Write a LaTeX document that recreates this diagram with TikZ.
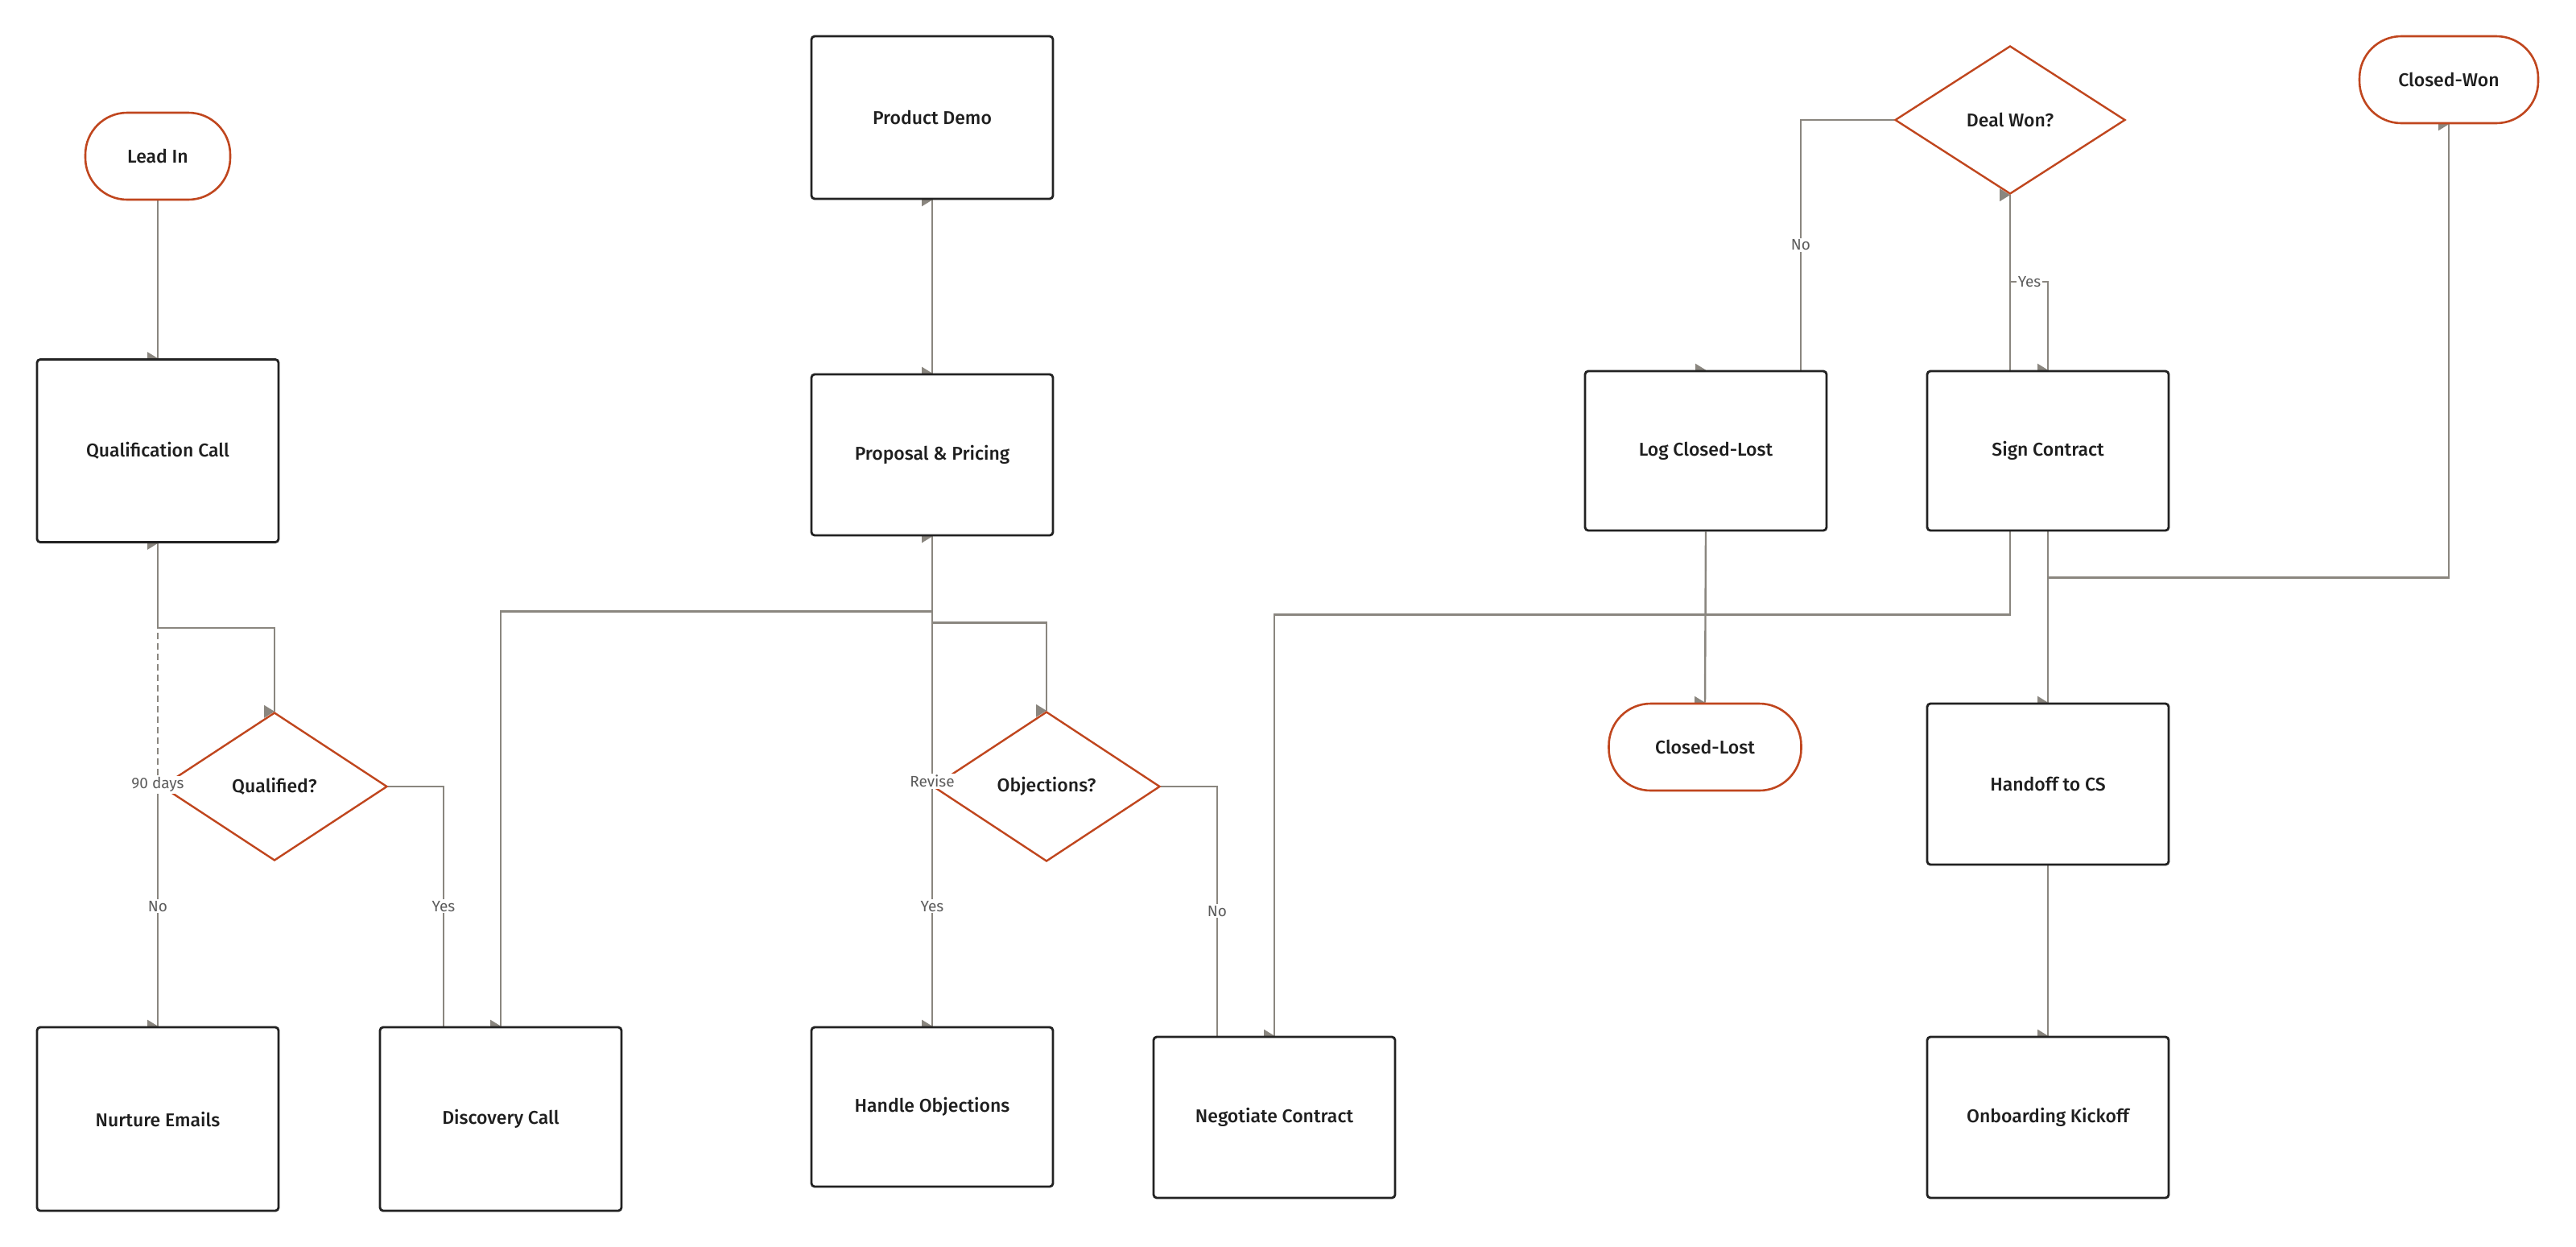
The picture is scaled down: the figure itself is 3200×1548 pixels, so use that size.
\documentclass[tikz,border=0pt]{standalone}
\usepackage{fontspec}
\setmainfont{Fira Sans}
\newfontfamily\medfont{Fira Sans Medium}
\usetikzlibrary{shapes.geometric,calc}
\pgfdeclarelayer{bg}
\pgfsetlayers{bg,main}
\definecolor{edgec}{HTML}{8A867F}
\definecolor{orng}{HTML}{C0461E}
\definecolor{boxc}{HTML}{222222}
\definecolor{lblc}{HTML}{5C5C5C}
\definecolor{txtc}{HTML}{1F1F1F}
\newcommand\arrowtipat[1]{\fill[tipc] (#1) -- ++(-13,-8) -- ++(0,16) -- cycle;}
\begin{document}
\begin{tikzpicture}[x=0.5pt,y=-0.5pt,
  proc/.style={rectangle, draw=boxc, line width=1.4pt, rounded corners=2pt, fill=white,
    minimum width=150pt, minimum height=100pt, inner sep=0pt, text=txtc,
    font=\medfont\fontsize{11.5}{13}\selectfont},
  term/.style={rectangle, draw=orng, line width=1.3pt, rounded corners=26pt, fill=white,
    minimum height=54pt, inner sep=0pt, text=txtc,
    font=\medfont\fontsize{11.5}{13}\selectfont},
  dec/.style={diamond, draw=orng, line width=1.2pt, fill=white, inner sep=0pt,
    shape aspect=1.5, text=txtc, font=\medfont\fontsize{11.5}{13}\selectfont},
  conn/.style={draw=edgec, line width=1.2pt},
  lbl/.style={fill=white, text=lblc, inner sep=1pt, font=\fontsize{9.5}{11}\selectfont},
  tipc/.style={fill=edgec}
]
\useasboundingbox (0,0) rectangle (3200,1548);

% nodes
\node[term, minimum width=90pt] (lead) at (196,194) {Lead In};
\node[proc, minimum height=113.5pt] (qc) at (196,560) {Qualification Call};
\node[dec, minimum width=140pt, minimum height=92pt] (qual) at (341,977) {Qualified?};
\node[proc, minimum height=114pt] (nurt) at (196,1390) {Nurture Emails};
\node[proc, minimum height=114pt] (disc) at (622,1390) {Discovery Call};
\node[proc, minimum height=101pt] (demo) at (1158,146) {Product Demo};
\node[proc] (prop) at (1158,565) {Proposal \& Pricing};
\node[dec, minimum width=141pt, minimum height=93pt] (obj) at (1300,977) {Objections?};
\node[proc, minimum height=99pt] (hand) at (1158,1375) {Handle Objections};
\node[proc] (nego) at (1583,1388) {Negotiate Contract};
\node[proc, minimum height=99pt] (lcl) at (2119,560) {Log Closed-Lost};
\node[term, minimum width=119.5pt] (clost) at (2118,928) {Closed-Lost};
\node[dec, minimum width=143pt, minimum height=92pt] (won) at (2497,149) {Deal Won?};
\node[proc, minimum height=99pt] (sign) at (2544,560) {Sign Contract};
\node[term, minimum width=111pt] (cwon) at (3042,99) {Closed-Won};
\node[proc] (hcs) at (2544,974) {Handoff to CS};
\node[proc] (onb) at (2544,1388) {Onboarding Kickoff};

\coordinate (qy) at ($(disc.north)+(-71,0)$);
\coordinate (ny) at ($(nego.north)+(-71,0)$);
\coordinate (ly) at ($(lcl.north)+(118,0)$);

\begin{pgfonlayer}{bg}
\fill[white] (0,0) rectangle (3200,1548);
\draw[conn] (lead.south) -- (qc.north);
\draw[conn] (qc.south) -- ++(0,105) -| (qual.north);
\draw[conn] (qual.west) -- (qual.west -| qc.south) -- (nurt.north);
\draw[conn, dash pattern=on 4pt off 2.5pt] (nurt.north) -- (qc.south);
\draw[conn] (qual.east) -| (qy);
\draw[conn] (disc.north) -- ++(0,-515) -| (demo.south);
\draw[conn] (demo.south) -- (prop.north);
\draw[conn] (prop.south) -- ++(0,107) -| (obj.north);
\draw[conn] (obj.west -| hand.north) -- (hand.north);
\draw[conn] (hand.north) -- (prop.south);
\draw[conn] (obj.east) -| (ny);
\draw[conn] (nego.north) -- ++(0,-523) -| (won.south);
\draw[conn] (won.west) -| (ly);
\draw[conn] (won.south) -- ++(0,108) -| (sign.north);
\draw[conn] (lcl.south) -- (clost.north);
\draw[conn] (sign.south) -- ++(0,57) -| (cwon.south);
\draw[conn] (sign.south) -- (hcs.north);
\draw[conn] (hcs.south) -- (onb.north);
% arrow tips
\arrowtipat{qc.north}
\arrowtipat{qual.north}
\arrowtipat{nurt.north}
\arrowtipat{qc.south}
\arrowtipat{disc.north}
\arrowtipat{demo.south}
\arrowtipat{prop.north}
\arrowtipat{obj.north}
\arrowtipat{hand.north}
\arrowtipat{prop.south}
\arrowtipat{nego.north}
\arrowtipat{won.south}
\arrowtipat{lcl.north}
\arrowtipat{sign.north}
\arrowtipat{clost.north}
\arrowtipat{cwon.south}
\arrowtipat{hcs.north}
\arrowtipat{onb.north}
\end{pgfonlayer}

% labels
\node[lbl] (l1) at ($(qc.south)!.5!(nurt.north)$) {90 days};
\node[lbl] (l2) at ($(qual.west -| qc.south)!.5!(nurt.north)$) {No};
\node[lbl] (l3) at ($(qy |- qual.east)!.5!(qy)$) {Yes};
\node[lbl] (l4) at ($(prop.south)!.5!(hand.north)$) {Revise};
\node[lbl] (l5) at ($(obj.west -| hand.north)!.5!(hand.north)$) {Yes};
\node[lbl] (l6) at ($(ny |- obj.east)!.5!(ny)$) {No};
\node[lbl] (l7) at ($(ly |- won.west)!.5!(ly)$) {No};
\node[lbl] (l8) at ($(won.south)+(24,108)$) {Yes};
\end{tikzpicture}
\end{document}
